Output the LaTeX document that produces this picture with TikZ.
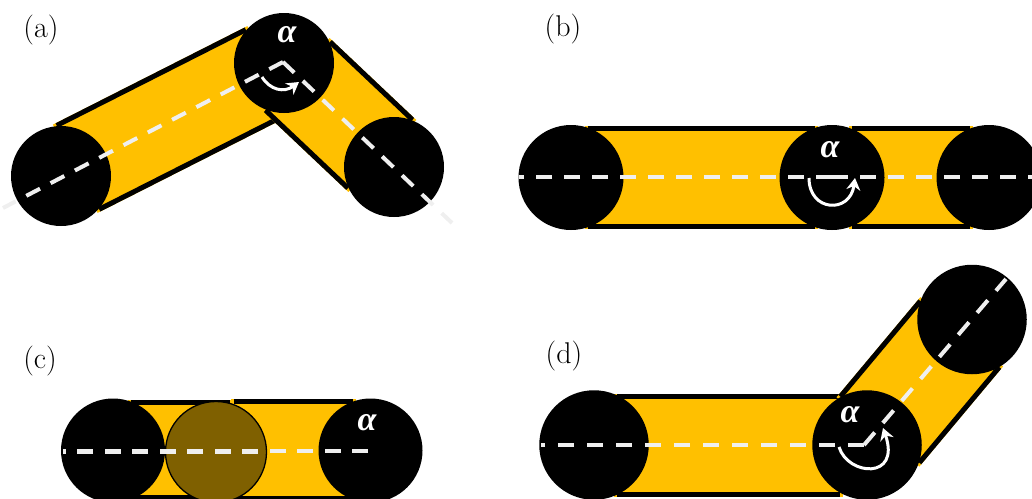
\documentclass[tikz,border=0pt]{standalone}
\usepackage{fontspec}
\usetikzlibrary{calc,arrows.meta}
\newfontfamily\anglefont{Liberation Serif}
\definecolor{bandyellow}{HTML}{FFC000}
\definecolor{ghostbrown}{HTML}{7F6000}
\definecolor{axisgray}{HTML}{EFEFEF}
\newcommand{\anglesym}{α}
\tikzset{
  joint/.style={circle,fill=black,inner sep=0pt,outer sep=0pt},
  ghost/.style={circle,fill=ghostbrown,draw=black,line width=1.3pt,inner sep=0pt,outer sep=0pt},
  edgeline/.style={draw=black,line width=5pt},
  axisline/.style={draw=axisgray,line width=4pt},
  turn/.style={draw=white,line width=3pt,-{Stealth[length=12pt,width=14pt]}},
  anglelabel/.style={text=white,inner sep=0pt,font=\fontsize{34}{36}\anglefont\bfseries\itshape},
  panellabel/.style={text=black,inner sep=0pt,font=\fontsize{30}{32}\selectfont},
}
% #1 from, #2 to, #3 start offset, #4 end offset, #5 half width
\newcommand{\linkbar}[5]{%
  \coordinate (p1) at ($(#1)!#3pt!(#2)$);
  \coordinate (p2) at ($(#2)!#4pt!(#1)$);
  \coordinate (q1) at ($(#1)!#3pt+3pt!(#2)$);
  \coordinate (q2) at ($(#2)!#4pt+3pt!(#1)$);
  \fill[bandyellow] ($(p1)!#5pt!90:(p2)$) -- ($(p2)!#5pt!-90:(p1)$)
     -- ($(p2)!#5pt!90:(p1)$) -- ($(p1)!#5pt!-90:(p2)$) -- cycle;
  \draw[edgeline] ($(q1)!#5pt-2.5pt!90:(q2)$) -- ($(q2)!#5pt-2.5pt!-90:(q1)$);
  \draw[edgeline] ($(q1)!#5pt-2.5pt!-90:(q2)$) -- ($(q2)!#5pt-2.5pt!90:(q1)$);
}
\begin{document}
\begin{tikzpicture}[x=1pt,y=-1pt]
\useasboundingbox (0,0) rectangle (1032,498);
\clip (0,0) rectangle (1032,498);
% ---------- (a)
\coordinate (A1) at (61,176);
\coordinate (A2) at (284,63);
\coordinate (A3) at (394,167);
\coordinate (AV) at (283,62);
\coordinate (AE1) at (3,208);
\coordinate (AE2) at (452,223);
\linkbar{A1}{A2}{16}{16}{49.5}
\linkbar{A2}{A3}{16}{16}{49.5}
\node[joint,minimum size=100pt] (a1) at (A1) {};
\node[joint,minimum size=100pt] (a2) at (A2) {};
\node[joint,minimum size=100pt] (a3) at (A3) {};
\draw[axisline,dash pattern=on 15.5pt off 11.9pt] (AV) -- (AE1);
\draw[axisline,dash pattern=on 15.5pt off 11.9pt] (AV) -- (AE2);
\draw[turn] (262,77) .. controls (270,90) and (284,93) .. (299,82);
\node[anglelabel] (alphaa) at (287,35) {\anglesym};
\node[panellabel] (la) at (41,30) {(a)};
% ---------- (b)
\coordinate (B1) at (571,177.5);
\coordinate (B2) at (832,177.5);
\coordinate (B3) at (989,177.5);
\coordinate (BV) at (832,177);
\coordinate (BE1) at (519,177);
\coordinate (BE2) at (1032,177);
\linkbar{B1}{B2}{14}{14}{51.5}
\linkbar{B2}{B3}{17}{16}{51.5}
\node[joint,minimum size=105pt] (b1) at (B1) {};
\node[joint,minimum size=105pt] (b2) at (B2) {};
\node[joint,minimum size=105pt] (b3) at (B3) {};
\draw[axisline,dash pattern=on 16pt off 12pt] (BV) -- (BE1);
\draw[axisline,dash pattern=on 16pt off 12pt] (BV) -- (BE2);
\draw[turn] (809,178) .. controls (809,212) and (850,214) .. (855,178);
\node[anglelabel] (alphab) at (830,150) {\anglesym};
\node[panellabel] (lb) at (563,29) {(b)};
% ---------- (c)
\coordinate (C1) at (113,450.5);
\coordinate (C2) at (216,452);
\coordinate (C3) at (370.5,450.5);
\coordinate (CB1) at (128,450);
\coordinate (CB2) at (233,450);
\coordinate (CB3) at (231,449.5);
\coordinate (CB4) at (356,449.5);
\coordinate (CV) at (368,450.5);
\coordinate (CW1) at (258,451);
\coordinate (CW2) at (63,451);
\coordinate (CM) at (270,450.5);
\linkbar{CB1}{CB2}{0}{0}{50}
\linkbar{CB3}{CB4}{0}{0}{51}
\node[joint,minimum size=104pt] (c1) at (C1) {};
\node[joint,minimum size=104pt] (c3) at (C3) {};
\node[ghost,minimum size=101pt] (c2) at (C2) {};
\draw[axisline,dash pattern=on 16pt off 11.5pt] (CV) -- (CM);
\draw[axisline,line width=5pt,dash pattern=on 16pt off 11.5pt] (CW1) -- (CW2);
\node[anglelabel] (alphac) at (367,423) {\anglesym};
\node[panellabel] (lc) at (40,361) {(c)};
% ---------- (d)
\coordinate (D1) at (594,445);
\coordinate (D2) at (867,445);
\coordinate (D3) at (972,319.5);
\coordinate (DV) at (864,445);
\coordinate (DE1) at (541,445);
\coordinate (DE2) at (1006,279);
\linkbar{D1}{D2}{20}{24}{51.5}
\linkbar{D2}{D3}{17}{16}{54}
\node[joint,minimum size=109.5pt] (d1) at (D1) {};
\node[joint,minimum size=109.5pt] (d2) at (D2) {};
\node[joint,minimum size=109.5pt] (d3) at (D3) {};
\draw[axisline,dash pattern=on 16.5pt off 12.5pt] (DV) -- (DE1);
\draw[axisline,dash pattern=on 16.5pt off 12.5pt] (DV) -- (DE2);
\draw[turn] (839,447) .. controls (848,476) and (901,480) .. (883,428);
\node[anglelabel] (alphad) at (850,415) {\anglesym};
\node[panellabel] (ld) at (564,356) {(d)};
\end{tikzpicture}
\end{document}
